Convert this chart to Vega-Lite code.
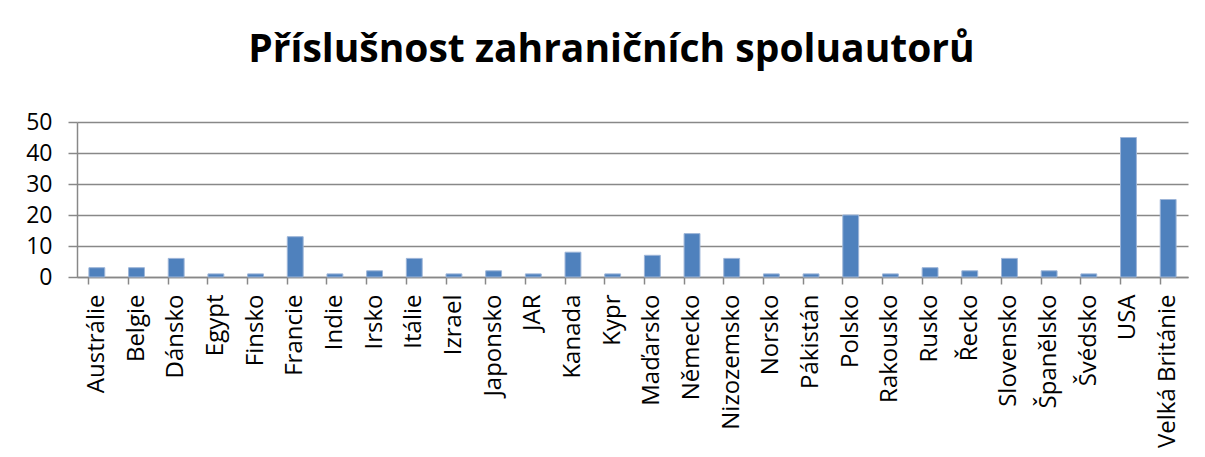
{
  "$schema": "https://vega.github.io/schema/vega-lite/v6.json",
  "width": 1111,
  "height": 155,
  "autosize": "none",
  "padding": {"left": 77, "top": 122, "right": 17, "bottom": 180},
  "background": "white",
  "config": {"view": {"stroke": null}},
  "title": {
    "text": "Příslušnost zahraničních spoluautorů",
    "font": "Open Sans",
    "fontSize": 39,
    "fontWeight": "bold",
    "color": "black",
    "anchor": "middle",
    "dx": -21,
    "offset": 41
  },
  "data": {
    "values": [
      {"zeme": "Austrálie", "pocet": 3},
      {"zeme": "Belgie", "pocet": 3},
      {"zeme": "Dánsko", "pocet": 6},
      {"zeme": "Egypt", "pocet": 1},
      {"zeme": "Finsko", "pocet": 1},
      {"zeme": "Francie", "pocet": 13},
      {"zeme": "Indie", "pocet": 1},
      {"zeme": "Irsko", "pocet": 2},
      {"zeme": "Itálie", "pocet": 6},
      {"zeme": "Izrael", "pocet": 1},
      {"zeme": "Japonsko", "pocet": 2},
      {"zeme": "JAR", "pocet": 1},
      {"zeme": "Kanada", "pocet": 8},
      {"zeme": "Kypr", "pocet": 1},
      {"zeme": "Maďarsko", "pocet": 7},
      {"zeme": "Německo", "pocet": 14},
      {"zeme": "Nizozemsko", "pocet": 6},
      {"zeme": "Norsko", "pocet": 1},
      {"zeme": "Pákistán", "pocet": 1},
      {"zeme": "Polsko", "pocet": 20},
      {"zeme": "Rakousko", "pocet": 1},
      {"zeme": "Rusko", "pocet": 3},
      {"zeme": "Řecko", "pocet": 2},
      {"zeme": "Slovensko", "pocet": 6},
      {"zeme": "Španělsko", "pocet": 2},
      {"zeme": "Švédsko", "pocet": 1},
      {"zeme": "USA", "pocet": 45},
      {"zeme": "Velká Británie", "pocet": 25}
    ]
  },
  "encoding": {
    "y": {
      "field": "pocet",
      "type": "quantitative",
      "title": null,
      "scale": {"domain": [0, 50]},
      "axis": {
        "values": [0, 10, 20, 30, 40, 50],
        "labelOverlap": false,
        "labelFont": "Open Sans",
        "labelFontSize": 23,
        "labelColor": "black",
        "labelPadding": 16,
        "tickSize": 9,
        "tickColor": "#888888",
        "tickWidth": 1.5,
        "domainColor": "#888888",
        "domainWidth": 1.5,
        "grid": true,
        "gridColor": "#888888",
        "gridWidth": 1.5
      }
    }
  },
  "layer": [
    {
      "mark": {"type": "bar", "color": "#4F81BD", "stroke": "#9DB5D8", "strokeWidth": 1},
      "encoding": {
        "x": {
          "field": "zeme",
          "type": "nominal",
          "sort": null,
          "title": null,
          "scale": {"paddingInner": 0.6, "paddingOuter": 0.3},
          "axis": {
            "orient": "bottom",
            "labelAngle": -90,
            "labelFont": "Open Sans",
            "labelFontSize": 24,
            "labelColor": "black",
            "labelPadding": 17,
            "ticks": false,
            "tickSize": 0,
            "domain": true,
            "domainColor": "#888888",
            "domainWidth": 1.5,
            "grid": false
          }
        }
      }
    },
    {
      "mark": {"type": "bar", "opacity": 0},
      "encoding": {
        "x": {
          "field": "zeme",
          "type": "nominal",
          "sort": null,
          "title": null,
          "axis": {
            "orient": "bottom",
            "bandPosition": 0,
            "labels": false,
            "domain": false,
            "ticks": true,
            "tickSize": 7,
            "tickColor": "#888888",
            "tickWidth": 1.5,
            "grid": false
          }
        }
      }
    }
  ],
  "resolve": {"axis": {"x": "independent"}}
}
